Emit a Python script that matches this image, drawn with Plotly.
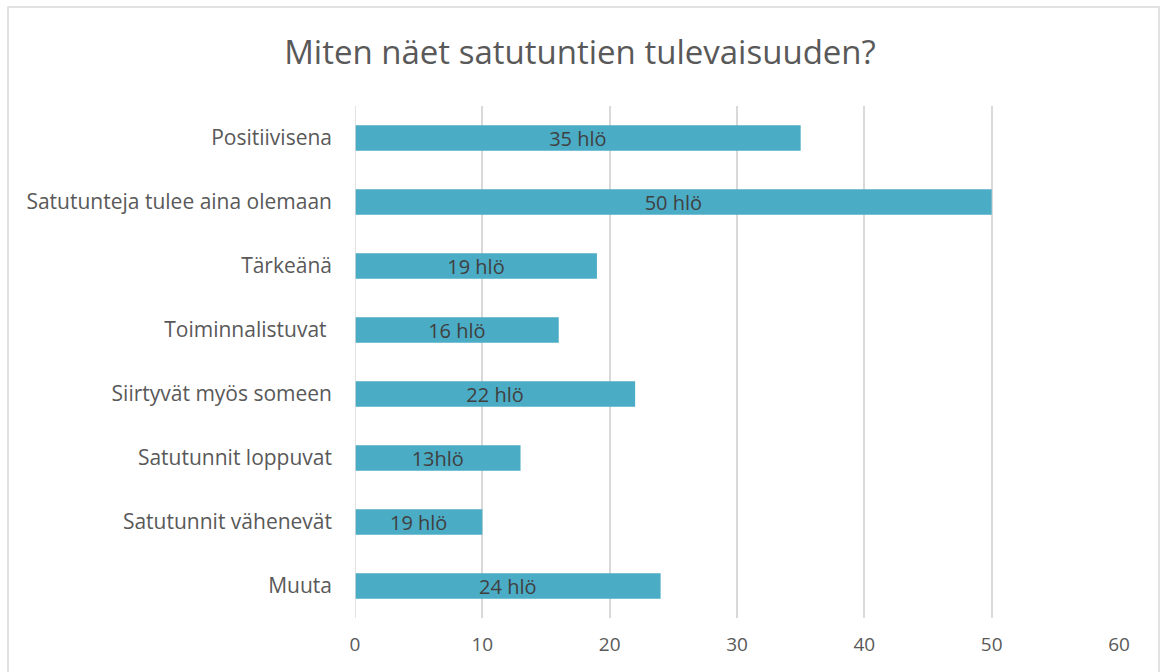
import plotly.graph_objects as go

categories = ["Positiivisena", "Satutunteja tulee aina olemaan", "Tärkeänä", "Toiminnalistuvat ",
              "Siirtyvät myös someen", "Satutunnit loppuvat", "Satutunnit vähenevät", "Muuta"]
values = [35, 50, 19, 16, 22, 13, 10, 24]
bar_labels = ["35 hlö", "50 hlö", "19 hlö", "16 hlö", "22 hlö", "13hlö", "19 hlö", "24 hlö"]
x_ticks = [0, 10, 20, 30, 40, 50, 60]

FONT = "Open Sans"
GRAY = "#595959"

fig = go.Figure(go.Bar(
    x=values, y=categories, orientation="h",
    marker=dict(color="#4BACC6", line=dict(width=0)),
    text=bar_labels, textposition="inside", insidetextanchor="middle",
    constraintext="none", textangle=0,
    textfont=dict(family=FONT, size=20, color="#404040"),
    hoverinfo="skip",
))

L, R, T, B = 355, 41, 106, 54
W, H = 1160, 672
pw, ph = W - L - R, H - T - B

fig.update_layout(
    width=W, height=H,
    margin=dict(l=L, r=R, t=T, b=B),
    paper_bgcolor="white", plot_bgcolor="white",
    bargap=0.6,
    showlegend=False,
    title=dict(text="Miten näet satutuntien tulevaisuuden?", x=0.5, xanchor="center",
               xref="container", y=1 - 52 / H, yanchor="middle", yref="container",
               font=dict(family=FONT, size=33, color=GRAY)),
    xaxis=dict(range=[0, 60], tickvals=x_ticks, showgrid=True, gridcolor="#d9d9d9", gridwidth=1.5,
               zeroline=False, showline=False, ticks="", ticklabelstandoff=13,
               tickfont=dict(family=FONT, size=19, color=GRAY)),
    yaxis=dict(autorange="reversed", showgrid=False, zeroline=False, showline=False,
               ticks="", ticklabelstandoff=22,
               tickfont=dict(family=FONT, size=21, color=GRAY)),
    shapes=[
        dict(type="line", xref="x", yref="paper", x0=0, x1=0, y0=0, y1=1,
             line=dict(color="#d9d9d9", width=1.5)),
        dict(type="rect", xref="paper", yref="paper",
             x0=(8 - L) / pw, x1=(1159 - L) / pw,
             y0=(H - B - 690) / ph, y1=(H - B - 7) / ph,
             line=dict(color="#d9d9d9", width=1.5), layer="below"),
    ],
)

fig.write_html("out.html", config={"displayModeBar": False},
               post_script="document.body.style.margin='0';document.body.style.overflow='hidden';")
